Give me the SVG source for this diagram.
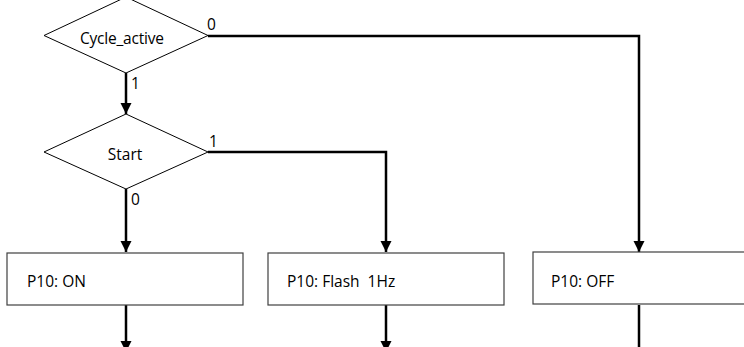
<svg xmlns="http://www.w3.org/2000/svg" width="744" height="347" viewBox="0 0 744 347">
<style>
.bg{fill:#ffffff}
.dia{fill:#ffffff;stroke:#000000;stroke-width:1}
.box{fill:#ffffff;stroke:#404040;stroke-width:1.2}
.con{fill:none;stroke:#000000;stroke-width:2.5}
.t{font-family:"Open Sans","Liberation Sans",Arial,sans-serif;font-size:15.5px;fill:#000000}
.lbl{font-family:"Open Sans","Liberation Sans",Arial,sans-serif;font-size:15.5px;fill:#000000}
</style>
<defs>
<marker id="arr" markerUnits="userSpaceOnUse" markerWidth="12" markerHeight="12" viewBox="0 0 12 12" refX="11" refY="6" orient="auto">
<path d="M0,0.5 L11,6 L0,11.5 z" fill="#000000"/>
</marker>
</defs>
<rect class="bg" x="0" y="0" width="744" height="347"/>
<g id="connectors">
<path class="con" d="M126,73 L126,114" marker-end="url(#arr)"/>
<path class="con" d="M208,36 L639,36 L639,252" marker-end="url(#arr)"/>
<path class="con" d="M208,152 L386,152 L386,252" marker-end="url(#arr)"/>
<path class="con" d="M126,189 L126,252" marker-end="url(#arr)"/>
<path class="con" d="M126,305 L126,352" marker-end="url(#arr)"/>
<path class="con" d="M386,305 L386,352" marker-end="url(#arr)"/>
<path class="con" d="M639,305 L639,362" marker-end="url(#arr)"/>
<text class="lbl" x="207" y="30">0</text>
<text class="lbl" x="131" y="89">1</text>
<text class="lbl" x="209" y="147">1</text>
<text class="lbl" x="131" y="205">0</text>
</g>
<g id="cycle_active">
<polygon class="dia" points="126,-3 208,35.5 126,73 44,35.5"/>
<text class="t" x="122" y="44" text-anchor="middle" textLength="84">Cycle_active</text>
</g>
<g id="start">
<polygon class="dia" points="126,114 208,152 126,189 44,152"/>
<text class="t" x="125" y="159.5" text-anchor="middle">Start</text>
</g>
<g id="p10_on">
<rect class="box" x="7" y="253" width="236" height="52"/>
<text class="t" x="27" y="286.5">P10: ON</text>
</g>
<g id="p10_flash">
<rect class="box" x="268" y="253" width="236" height="52"/>
<text class="t" x="287" y="286.5" xml:space="preserve">P10: Flash  1Hz</text>
</g>
<g id="p10_off">
<rect class="box" x="533" y="252" width="220" height="52"/>
<text class="t" x="551" y="286.5">P10: OFF</text>
</g>
</svg>
